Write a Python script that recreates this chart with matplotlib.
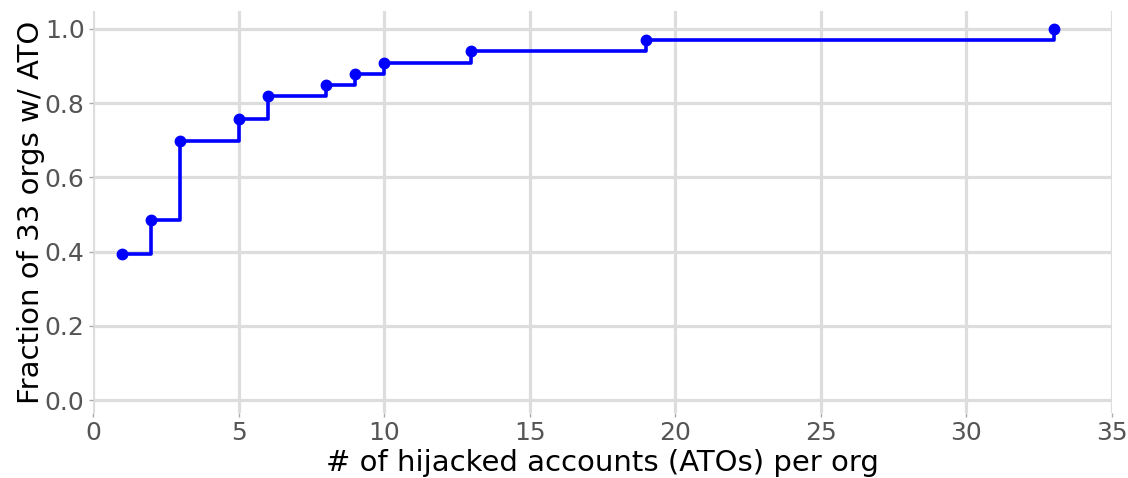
import matplotlib
matplotlib.use("Agg")
import matplotlib.pyplot as plt

accounts = [1, 2, 3, 5, 6, 8, 9, 10, 13, 19, 33]
fraction = [13/33, 16/33, 23/33, 25/33, 27/33, 28/33, 29/33, 30/33, 31/33, 32/33, 33/33]
x_ticks = [0, 5, 10, 15, 20, 25, 30, 35]
y_ticks = [0.0, 0.2, 0.4, 0.6, 0.8, 1.0]

fig = plt.figure(figsize=(11.28, 4.78), dpi=100)
ax = fig.add_axes([0.0824, 0.136, 0.9034, 0.841])

ax.step(accounts, fraction, where='post', color='#0000ff', linewidth=2.6, zorder=3)
ax.plot(accounts, fraction, 'o', color='#0000ff', markersize=7.5, zorder=4)

ax.set_xlim(0, 35)
ax.set_ylim(-0.035, 1.048)
ax.set_xticks(x_ticks)
ax.set_yticks(y_ticks)
ax.set_yticklabels([f"{v:.1f}" for v in y_ticks])
ax.grid(True, color='#dddddd', linewidth=2.3)
ax.set_axisbelow(True)
for s in ax.spines.values():
    s.set_visible(False)
ax.tick_params(axis='both', labelsize=18, labelcolor='#555555', color='#aaaaaa', length=3, width=1, pad=3)
ax.set_xlabel("# of hijacked accounts (ATOs) per org", fontsize=21, labelpad=3)
ax.set_ylabel("Fraction of 33 orgs w/ ATO", fontsize=21, labelpad=0)

fig.savefig("out.png", dpi=100)
